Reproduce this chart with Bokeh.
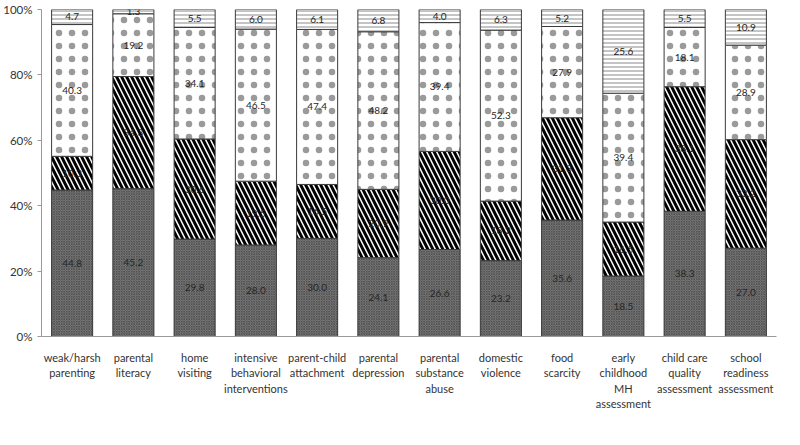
from bokeh.plotting import figure
from bokeh.models import ColumnDataSource, Legend, LegendItem, PrintfTickFormatter, FixedTicker, Range1d, FactorRange
from bokeh.embed import file_html
from bokeh.resources import INLINE
from bokeh.core.properties import value

categories = [
    "weak/harsh\nparenting", "parental\nliteracy", "home\nvisiting",
    "intensive\nbehavioral\ninterventions", "parent-child\nattachment",
    "parental\ndepression", "parental\nsubstance\nabuse", "domestic\nviolence",
    "food\nscarcity", "early\nchildhood\nMH\nassessment",
    "child care\nquality\nassessment", "school\nreadiness\nassessment",
]
never_heard = [44.8, 45.2, 29.8, 28.0, 30.0, 24.1, 26.6, 23.2, 35.6, 18.5, 38.3, 27.0]
never_use   = [10.3, 34.3, 30.6, 19.5, 16.5, 20.9, 30.0, 18.2, 31.3, 16.5, 38.1, 33.2]
use_times   = [40.3, 19.2, 34.1, 46.5, 47.4, 48.2, 39.4, 52.3, 27.9, 39.4, 18.1, 28.9]
use_routine = [4.7, 1.3, 5.5, 6.0, 6.1, 6.8, 4.0, 6.3, 5.2, 25.6, 5.5, 10.9]
series_names = ["never heard of/not available", "never use", "use at times", "use routinely"]
yticks = [0, 20, 40, 60, 80, 100]

series = [never_heard, never_use, use_times, use_routine]
styles = [
    dict(fill_color="#7a7a7a", hatch_pattern="diagonal_cross", hatch_color="#4a4a4a", hatch_scale=2.5, hatch_weight=0.8),
    dict(fill_color="white", hatch_pattern="left_diagonal_line", hatch_color="black", hatch_scale=10, hatch_weight=3),
    dict(fill_color="white", hatch_pattern="dot", hatch_color="#9a9a9a", hatch_scale=13, hatch_weight=0.3),
    dict(fill_color="white", hatch_pattern="horizontal_line", hatch_color="#8a8a8a", hatch_scale=4, hatch_weight=1),
]

p = figure(x_range=FactorRange(*categories), y_range=Range1d(0, 100),
           frame_width=735, frame_height=327, output_backend="svg", toolbar_location=None,
           min_border_left=39, min_border_top=9, min_border_right=10, min_border_bottom=0)

data = {"cat": categories}
bottoms = [0.0] * len(categories)
renderers = []
for i, vals in enumerate(series):
    tops = [b + v for b, v in zip(bottoms, vals)]
    data[f"b{i}"] = list(bottoms)
    data[f"t{i}"] = tops
    data[f"m{i}"] = [(b + t) / 2 for b, t in zip(bottoms, tops)]
    data[f"l{i}"] = [f"{v:.1f}" for v in vals]
    bottoms = tops
src = ColumnDataSource(data)

for i, st in enumerate(styles):
    r = p.vbar(x="cat", bottom=f"b{i}", top=f"t{i}", width=0.67, source=src,
               line_color="#3a3a3a", line_width=1, **st)
    renderers.append(r)
for i in range(4):
    p.text(x="cat", y=f"m{i}", text=f"l{i}", source=src, text_align="center",
           text_baseline="middle", text_font=value("Lato"), text_font_size="10px",
           text_color="#262626")

p.xgrid.visible = False
p.ygrid.visible = False
p.outline_line_color = None

p.yaxis.ticker = FixedTicker(ticks=yticks)
p.yaxis.formatter = PrintfTickFormatter(format="%d%%")
p.yaxis.major_label_text_font = "Lato"
p.yaxis.major_label_text_font_size = "11.5px"
p.yaxis.major_label_text_color = "#333333"
p.yaxis.axis_line_color = "#9a9a9a"
p.yaxis.major_tick_line_color = "#9a9a9a"
p.yaxis.major_tick_out = 4
p.yaxis.major_tick_in = 0
p.yaxis.minor_tick_line_color = None

p.xaxis.major_label_text_font = "Lato"
p.xaxis.major_label_text_font_size = "11px"
p.xaxis.major_label_text_color = "#333333"
p.xaxis.axis_line_color = "#9a9a9a"
p.xaxis.major_tick_line_color = None
p.xaxis.minor_tick_line_color = None
p.xaxis.major_label_standoff = 8

legend = Legend(items=[LegendItem(label=n, renderers=[r]) for n, r in zip(series_names, renderers)],
                orientation="horizontal", location="center",
                label_text_font="Lato", label_text_font_size="11px", label_text_color="#333333",
                glyph_width=9, glyph_height=9, spacing=18, label_standoff=3,
                border_line_color="#333333", border_line_width=1, padding=3, margin=2)
p.add_layout(legend, "below")

open("out.html", "w").write(file_html(p, INLINE))
